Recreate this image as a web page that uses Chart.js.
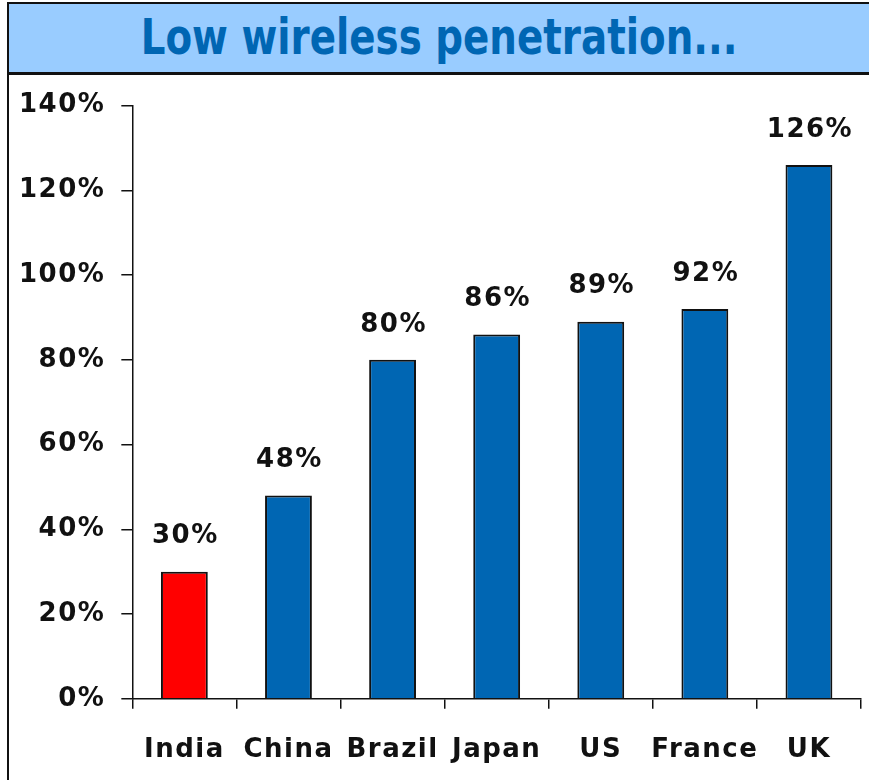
<!DOCTYPE html>
<html lang="en">
<head>
<meta charset="utf-8"/>
<title>Low wireless penetration</title>
<style>
  body { margin: 0; padding: 0; background: #fff; width: 869px; height: 780px; overflow: hidden; }
  #frame { position: absolute; left: 7px; top: 2px; width: 880px; height: 800px; border: 2px solid #111; border-right: none; border-bottom: none; }
  #title { height: 68px; background: #99ccff; border-bottom: 3px solid #111; text-align: center;
           font-family: "Liberation Sans Narrow", "DejaVu Sans Condensed", sans-serif; font-weight: bold;
           font-size: 49px; line-height: 68px; color: #0066b3; padding-right: 20px; }
  #title span { display: inline-block; transform: scaleX(0.88); }
  #wrap { position: absolute; left: 9px; top: 74px; width: 860px; height: 718px; }
</style>
</head>
<body>
<div id="frame"><div id="title"><span>Low wireless penetration...</span></div></div>
<div id="wrap"><canvas id="chart"></canvas></div>
<script src="https://cdn.jsdelivr.net/npm/chart.js"></script>
<script>
const countries = ["India", "China", "Brazil", "Japan", "US", "France", "UK"];
const penetration = [30, 48, 80, 86, 89, 92, 126];
const barColors = ["#ff0000", "#0066b3", "#0066b3", "#0066b3", "#0066b3", "#0066b3", "#0066b3"];
const yTicks = [0, 20, 40, 60, 80, 100, 120, 140];

const labelFont = { family: "'DejaVu Sans', sans-serif", size: 26, weight: "bold" };

// value labels above each bar
const valueLabels = {
  id: "valueLabels",
  afterDatasetsDraw(chart) {
    const ctx = chart.ctx;
    ctx.save();
    ctx.letterSpacing = "1.5px";
    ctx.font = "bold 26px 'DejaVu Sans', sans-serif";
    ctx.fillStyle = "#111";
    ctx.textAlign = "center";
    ctx.textBaseline = "bottom";
    chart.getDatasetMeta(0).data.forEach((bar, i) => {
      ctx.fillText(penetration[i] + "%", bar.x + 1, bar.y - 22);
    });
    ctx.restore();
  }
};

const spacing = {
  id: "spacing",
  beforeDraw(chart) { chart.ctx.letterSpacing = "1.5px"; }
};

new Chart(document.getElementById("chart"), {
  type: "bar",
  data: {
    labels: countries,
    datasets: [{
      data: penetration,
      backgroundColor: barColors,
      borderColor: "#111",
      borderWidth: 2,
      barPercentage: 0.45,
      categoryPercentage: 1
    }]
  },
  options: {
    responsive: true,
    maintainAspectRatio: false,
    animation: false,
    layout: { padding: { top: 18, right: 8, left: 0, bottom: 0 } },
    plugins: { legend: { display: false }, tooltip: { enabled: false } },
    scales: {
      x: {
        grid: { drawOnChartArea: false, color: "#111", lineWidth: 1.5, tickLength: 10, offset: true },
        border: { color: "#111", width: 1.5 },
        ticks: { color: "#111", font: labelFont, padding: 26 }
      },
      y: {
        min: 0, max: 140,
        afterBuildTicks(axis) { axis.ticks = yTicks.map(v => ({ value: v })); },
        grid: { drawOnChartArea: false, color: "#111", lineWidth: 1.5, tickLength: 11 },
        border: { color: "#111", width: 1.5 },
        ticks: { color: "#111", font: labelFont, padding: 16, callback: v => v + "%" }
      }
    }
  },
  plugins: [spacing, valueLabels]
});
</script>
</body>
</html>
